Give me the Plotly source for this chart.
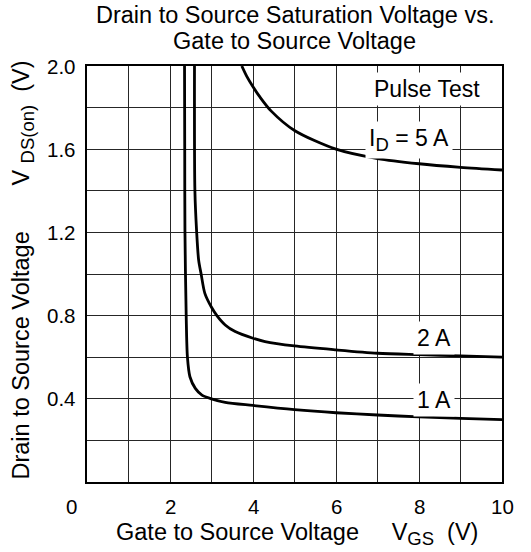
import plotly.graph_objects as go

# ---- data ----
vgs_1a = [2.35, 2.355, 2.36, 2.39, 2.42, 2.48, 2.61, 2.77, 3.0, 3.33, 4.0, 5.0, 6.0, 7.0, 8.0, 9.0, 10.0]
vds_1a = [2.0, 1.6, 1.21, 0.80, 0.60, 0.506, 0.45, 0.418, 0.40, 0.383, 0.368, 0.348, 0.333, 0.322, 0.313, 0.306, 0.30]

vgs_2a = [2.59, 2.60, 2.64, 2.69, 2.75, 2.84, 3.0, 3.13, 3.33, 3.57, 4.0, 4.29, 5.0, 6.0, 7.0, 8.0, 9.0, 10.0]
vds_2a = [2.0, 1.40, 1.21, 1.067, 1.0, 0.907, 0.84, 0.80, 0.755, 0.723, 0.691, 0.675, 0.654, 0.635, 0.619, 0.612, 0.606, 0.60]

vgs_5a = [3.73, 3.85, 4.0, 4.17, 4.44, 5.0, 6.0, 7.0, 8.0, 9.0, 10.0]
vds_5a = [2.0, 1.95, 1.90, 1.85, 1.783, 1.69, 1.60, 1.555, 1.53, 1.513, 1.50]

x_tick_vals = [0, 2, 4, 6, 8, 10]
x_tick_text = ["0", "2", "4", "6", "8", "10"]
y_tick_vals = [0.4, 0.8, 1.2, 1.6, 2.0]
y_tick_text = ["0.4", "0.8", "1.2", "1.6", "2.0"]

FONT = "Liberation Sans, Arial, Helvetica, sans-serif"
NB = "\u00a0"


def sub(t, size=18.5):
    return "<sub><span style='font-size:%gpx'>%s</span></sub>" % (size, t)


curve_labels = ["Pulse Test", "I" + sub("D") + " = 5 A", "2 A", "1 A"]
curve_label_x = [8.2, 7.75, 8.36, 8.37]
curve_label_y = [1.889, 1.645, 0.691, 0.394]

title_lines = ["Drain to Source Saturation Voltage vs.", "Gate to Source Voltage"]

fig = go.Figure()
for xs, ys in [(vgs_1a, vds_1a), (vgs_2a, vds_2a), (vgs_5a, vds_5a)]:
    fig.add_trace(go.Scatter(x=xs, y=ys, mode="lines",
                             line=dict(color="black", width=2.8, shape="spline", smoothing=0.8),
                             showlegend=False, hoverinfo="skip"))

annotations = []
# x tick labels
for v, t in zip(x_tick_vals, x_tick_text):
    annotations.append(dict(x=v, y=-0.0577, xref="x", yref="paper", text=t, showarrow=False,
                            xanchor="center", yanchor="middle",
                            xshift=-16 if v == 0 else 0,
                            font=dict(family=FONT, size=20.5, color="black")))
# y tick labels
for v, t in zip(y_tick_vals, y_tick_text):
    annotations.append(dict(x=0, y=v, xref="paper", yref="y", text=t, showarrow=False,
                            xanchor="right", yanchor="middle", xshift=-9,
                            font=dict(family=FONT, size=20.5, color="black")))
# curve labels with white boxes
for t, xv, yv in zip(curve_labels, curve_label_x, curve_label_y):
    annotations.append(dict(x=xv, y=yv, xref="x", yref="y", text=t, showarrow=False,
                            xanchor="center", yanchor="middle", bgcolor="white", borderpad=3,
                            font=dict(family=FONT, size=23, color="black")))
# title lines
for t, yv in zip(title_lines, [1.1226, 1.0608]):
    annotations.append(dict(x=0.5, y=yv, xref="paper", yref="paper", text=t, showarrow=False,
                            xanchor="center", yanchor="middle",
                            font=dict(family=FONT, size=23.5, color="black")))
# axis titles
annotations.append(dict(x=0.505, y=-0.125, xref="paper", yref="paper",
                        text="Gate to Source Voltage" + NB * 5 + "V" + sub("GS") + NB * 2 + "(V)",
                        showarrow=False, xanchor="center", yanchor="middle",
                        font=dict(family=FONT, size=23.5, color="black")))
annotations.append(dict(x=-0.153, y=0.5096, xref="paper", yref="paper", textangle=-90,
                        text="Drain to Source Voltage" + NB * 7 + "V" + NB + sub("DS(on)") + NB * 2 + "(V)",
                        showarrow=False, xanchor="center", yanchor="middle",
                        font=dict(family=FONT, size=23.5, color="black")))

fig.update_layout(
    width=531, height=552,
    margin=dict(l=87, r=29, t=66, b=70),
    paper_bgcolor="white", plot_bgcolor="white",
    annotations=annotations,
    xaxis=dict(range=[0, 10], dtick=1, showgrid=True, gridcolor="#262626", gridwidth=1,
               showticklabels=False, ticks="", zeroline=False,
               showline=True, mirror=True, linecolor="black", linewidth=1.5, fixedrange=True),
    yaxis=dict(range=[0, 2], dtick=0.2, showgrid=True, gridcolor="#262626", gridwidth=1,
               showticklabels=False, ticks="", zeroline=False,
               showline=True, mirror=True, linecolor="black", linewidth=1.5, fixedrange=True),
)

fig.write_html("out.html", config={"displayModeBar": False},
               post_script="document.body.style.margin='0';document.body.style.overflow='hidden';")
